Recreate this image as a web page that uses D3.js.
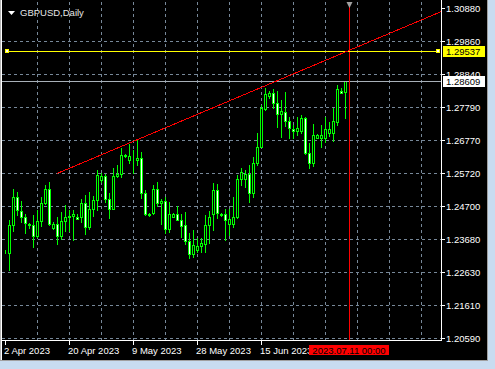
<!DOCTYPE html>
<html><head><meta charset="utf-8">
<script src="https://cdn.jsdelivr.net/npm/d3@7"></script>
<style>html,body{margin:0;padding:0;background:#000;overflow:hidden}svg{display:block}</style>
</head><body>
<script>
// ---- data (daily GBPUSD bars, 2 Apr 2023 .. 10 Jul 2023) ----
const opens  = [1.23287,1.23256,1.24114,1.24987,1.24550,1.24363,1.24160,1.24129,1.23755,1.24238,
                1.24790,1.25236,1.24011,1.24135,1.23761,1.24223,1.24363,1.24394,1.24372,1.24363,
                1.24790,1.24060,1.24603,1.24878,1.25526,1.25632,1.24915,1.24622,1.25632,1.25694,
                1.26256,1.26150,1.26172,1.26140,1.26193,1.25102,1.24472,1.24478,1.25227,1.24790,
                1.24862,1.23989,1.24372,1.24457,1.24285,1.24098,1.23630,1.23200,1.23334,1.23459,
                1.23521,1.24098,1.24457,1.25205,1.24410,1.24457,1.24145,1.24145,1.24354,1.25539,
                1.25548,1.25719,1.25102,1.26056,1.26555,1.27731,1.28136,1.28220,1.27908,1.27584,
                1.27637,1.27372,1.27107,1.27060,1.27045,1.27441,1.26349,1.26056,1.26817,1.26817,
                1.26817,1.26973,1.26973,1.27335,1.28292,1.28270];
const highs  = [1.23334,1.24254,1.25236,1.25133,1.24862,1.24447,1.24176,1.24425,1.24581,1.24996,
                1.25361,1.25454,1.24207,1.24363,1.24519,1.24737,1.24581,1.24581,1.24466,1.24909,
                1.25049,1.25152,1.25033,1.25844,1.25726,1.25694,1.25111,1.25882,1.25984,1.26505,
                1.26327,1.26630,1.26452,1.26764,1.26390,1.25220,1.24488,1.25361,1.25464,1.24924,
                1.24987,1.24831,1.24488,1.24706,1.24457,1.24519,1.23864,1.23958,1.23708,1.23708,
                1.24425,1.24550,1.25423,1.25392,1.24503,1.24612,1.24628,1.24987,1.25673,1.25891,
                1.25829,1.25984,1.26234,1.26967,1.27855,1.28401,1.28292,1.28354,1.28292,1.28011,
                1.28261,1.27490,1.27232,1.27481,1.27559,1.27490,1.26655,1.27263,1.26936,1.27232,
                1.27481,1.27325,1.27777,1.28479,1.28370,1.28619];
const lows   = [1.23225,1.22710,1.23942,1.24425,1.24207,1.23873,1.24020,1.23412,1.23739,1.24082,
                1.24753,1.24114,1.23989,1.23521,1.23668,1.23942,1.23926,1.23646,1.24301,1.24207,
                1.23833,1.23979,1.24394,1.24581,1.25464,1.24840,1.24322,1.24612,1.25610,1.25620,
                1.26234,1.26037,1.25726,1.25984,1.24971,1.24425,1.24394,1.24457,1.24706,1.24145,
                1.23864,1.23895,1.24363,1.24254,1.23739,1.23521,1.23084,1.23116,1.23287,1.23272,
                1.23272,1.23552,1.23958,1.24332,1.24394,1.23646,1.23817,1.24051,1.24332,1.25361,
                1.25298,1.24840,1.24987,1.25984,1.26546,1.27684,1.28074,1.27762,1.27169,1.26873,
                1.27200,1.26817,1.26826,1.26920,1.26982,1.26337,1.25882,1.25953,1.26811,1.26555,
                1.26711,1.26889,1.26733,1.27232,1.28214,1.27459];
const closes = [1.23272,1.24114,1.24987,1.24572,1.24354,1.24185,1.24114,1.23755,1.24238,1.24790,
                1.25236,1.24135,1.24135,1.23761,1.24238,1.24363,1.24404,1.24441,1.24316,1.24790,
                1.24060,1.24603,1.24893,1.25673,1.25632,1.24915,1.24622,1.25632,1.25704,1.26296,
                1.26296,1.26256,1.26156,1.26193,1.25102,1.24447,1.24425,1.25227,1.24790,1.24862,
                1.23989,1.24447,1.24457,1.24269,1.24092,1.23624,1.23200,1.23490,1.23459,1.23537,
                1.24114,1.24372,1.25205,1.24478,1.24447,1.24285,1.24301,1.24354,1.25539,1.25776,
                1.25719,1.25102,1.26056,1.26555,1.27762,1.28189,1.28239,1.27908,1.27590,1.27668,
                1.27366,1.27123,1.27060,1.27129,1.27441,1.26349,1.26056,1.26920,1.26920,1.26920,
                1.27098,1.27107,1.27347,1.28345,1.28239,1.28609];

const priceTickLabels = ["1.20590","1.21610","1.22630","1.23680","1.24700","1.25720",
                         "1.26770","1.27790","1.28840","1.29860","1.30880"];
const dateTickLabels = ["2 Apr 2023","20 Apr 2023","9 May 2023","28 May 2023","15 Jun 2023"];
const dateTickBars   = [0,16,32,48,64];
const chartTitle = "GBPUSD,Daily";
const hLinePrice = 1.29537;
const bidPrice   = 1.28609;
const trendBars   = [13, 64];
const trendPrices = [1.25719, 1.28400];
const vLineBar   = 86;
const vLineLabel = "2023.07.11 00:00";

// ---- layout ----
const W = 495, H = 369;
const plot = {left: 2, right: 441, top: 2, bottom: 340};
const FONT = "'Liberation Sans', Arial, sans-serif";

const svg = d3.select("body").append("svg").attr("width", W).attr("height", H)
  .style("font-family", FONT).attr("shape-rendering", "crispEdges");

svg.append("rect").attr("width", W).attr("height", H).attr("fill", "#000");

const x = d3.scaleLinear().domain([0, 109]).range([5, 441]);   // pixel column of bar
const y = d3.scaleLinear().domain([1.20590, 1.30880]).range([338, 8]);
const row = v => Math.round(y(v));

const defs = svg.append("defs");
defs.append("clipPath").attr("id", "plotclip").append("rect")
  .attr("x", plot.left).attr("y", plot.top)
  .attr("width", plot.right - plot.left).attr("height", plot.bottom - plot.top);

const g = svg.append("g").attr("clip-path", "url(#plotclip)");

// grid
const gridColor = "#778899";
const dom = y.domain();
const tickVals = priceTickLabels.map((t, i) => dom[0] + (dom[1] - dom[0]) * i / (priceTickLabels.length - 1));
g.append("g").selectAll("line").data(tickVals.slice(0, -1)).join("line")
  .attr("x1", plot.left).attr("x2", plot.right)
  .attr("y1", d => row(d) + 0.5).attr("y2", d => row(d) + 0.5)
  .attr("stroke", gridColor).attr("stroke-dasharray", "3,3");
const vGrid = d3.range(8, 109, 8);
g.append("g").selectAll("line").data(vGrid).join("line")
  .attr("x1", d => x(d) + 0.5).attr("x2", d => x(d) + 0.5)
  .attr("y1", plot.top).attr("y2", plot.bottom)
  .attr("stroke", gridColor).attr("stroke-dasharray", "3,3");

// candles
const bars = opens.map((o, i) => ({i, o, h: highs[i], l: lows[i], c: closes[i]}));
const cg = g.append("g");
cg.selectAll("line").data(bars).join("line")
  .attr("x1", d => x(d.i) + 0.5).attr("x2", d => x(d.i) + 0.5)
  .attr("y1", d => row(d.h)).attr("y2", d => row(d.l) + 1)
  .attr("stroke", "#00ff00");
cg.selectAll("rect").data(bars).join("rect")
  .attr("x", d => x(d.i) - 0.5).attr("width", 2)
  .attr("y", d => row(Math.max(d.o, d.c)) + 0.5)
  .attr("height", d => Math.max(0, row(Math.min(d.o, d.c)) - row(Math.max(d.o, d.c))))
  .attr("fill", d => d.c >= d.o ? "#000" : "#fff")
  .attr("stroke", "#00ff00");

// bid line
g.append("line").attr("x1", plot.left).attr("x2", plot.right)
  .attr("y1", row(bidPrice) + 0.5).attr("y2", row(bidPrice) + 0.5)
  .attr("stroke", "#a8b0b8");

// trend line (ray)
const slope = (trendPrices[1] - trendPrices[0]) / (trendBars[1] - trendBars[0]);
const endBar = 115;
svg.append("line").attr("clip-path", "url(#plotclip)")
  .attr("x1", x(trendBars[0])).attr("y1", y(trendPrices[0]))
  .attr("x2", x(endBar)).attr("y2", y(trendPrices[0] + slope * (endBar - trendBars[0])))
  .attr("stroke", "#ff0000").attr("shape-rendering", "crispEdges");

// vertical line
g.append("line").attr("x1", x(vLineBar) + 0.5).attr("x2", x(vLineBar) + 0.5)
  .attr("y1", plot.top).attr("y2", plot.bottom).attr("stroke", "#ff0000");

// chart-shift marker at the top
svg.append("path").attr("shape-rendering", "auto")
  .attr("d", `M${x(vLineBar) - 2.5},2 L${x(vLineBar) + 3.5},2 L${x(vLineBar) + 0.5},8 Z`)
  .attr("fill", "#a0a0a0");

// horizontal yellow line
const hy = row(hLinePrice) + 0.5;
g.append("line").attr("x1", 7).attr("x2", 438).attr("y1", hy).attr("y2", hy).attr("stroke", "#ffff00");
[7, 438].forEach(px => {
  svg.append("rect").attr("x", px - 1.5).attr("y", hy - 2).attr("width", 3).attr("height", 3)
    .attr("fill", "#fff").attr("stroke", "#ffff00");
});

// axes lines
svg.append("line").attr("x1", plot.right + 0.5).attr("x2", plot.right + 0.5)
  .attr("y1", 0).attr("y2", plot.bottom + 1).attr("stroke", "#fff");
svg.append("line").attr("x1", plot.left).attr("x2", plot.right + 1)
  .attr("y1", plot.bottom + 0.5).attr("y2", plot.bottom + 0.5).attr("stroke", "#fff");

// price axis ticks & labels
const pa = svg.append("g");
pa.selectAll("line").data(tickVals).join("line")
  .attr("x1", plot.right + 1).attr("x2", plot.right + 4)
  .attr("y1", d => row(d) + 0.5).attr("y2", d => row(d) + 0.5).attr("stroke", "#fff");
pa.selectAll("text").data(priceTickLabels).join("text")
  .attr("x", 446).attr("y", (d, i) => row(tickVals[i]) + 4)
  .attr("fill", "#fff").attr("font-size", "9.5px").text(d => d);

// price labels
function priceTag(price, bg) {
  const r = row(price);
  svg.append("rect").attr("x", 443).attr("y", r - 5).attr("width", 42).attr("height", 11).attr("fill", bg);
  svg.append("text").attr("x", 446).attr("y", r + 4).attr("fill", "#000")
    .attr("font-size", "9.5px").text(price.toFixed(5));
}
priceTag(hLinePrice, "#ffff00");
priceTag(bidPrice, "#ffffff");

// date axis
const da = svg.append("g");
da.selectAll("line").data(dateTickBars).join("line")
  .attr("x1", d => x(d) + 0.5).attr("x2", d => x(d) + 0.5)
  .attr("y1", plot.bottom + 1).attr("y2", plot.bottom + 5).attr("stroke", "#fff");
da.selectAll("text").data(dateTickLabels).join("text")
  .attr("x", (d, i) => x(dateTickBars[i]) - 1).attr("y", 354)
  .attr("fill", "#fff").attr("font-size", "9.5px").text(d => d);

// vertical line time label
const vx = x(vLineBar);
svg.append("rect").attr("x", vx - 40).attr("y", 345).attr("width", 80).attr("height", 10).attr("fill", "#ff0000");
svg.append("text").attr("x", vx).attr("y", 354).attr("text-anchor", "middle")
  .attr("fill", "#000").attr("font-size", "9.5px").text(vLineLabel);

// title
svg.append("path").attr("d", "M8,11 L15,11 L11.5,15 Z").attr("fill", "#fff").attr("shape-rendering", "auto");
svg.append("text").attr("x", 20).attr("y", 16).attr("fill", "#e6e6e6")
  .attr("font-size", "9.5px").text(chartTitle);

// window frame
svg.append("rect").attr("x", 0).attr("y", 0).attr("width", 1).attr("height", 361).attr("fill", "#b4b4b4");
svg.append("rect").attr("x", 1).attr("y", 0).attr("width", 1).attr("height", 361).attr("fill", "#ffffff");
svg.append("rect").attr("x", 488).attr("y", 0).attr("width", 7).attr("height", H).attr("fill", "#c8dcf0");
svg.append("rect").attr("x", 0).attr("y", 361).attr("width", W).attr("height", 8).attr("fill", "#c8dcf0");
svg.append("rect").attr("x", 487).attr("y", 0).attr("width", 1).attr("height", 361).attr("fill", "#a0a0a0");
svg.append("rect").attr("x", 0).attr("y", 360).attr("width", 488).attr("height", 1).attr("fill", "#a0a0a0");
</script>
</body></html>
